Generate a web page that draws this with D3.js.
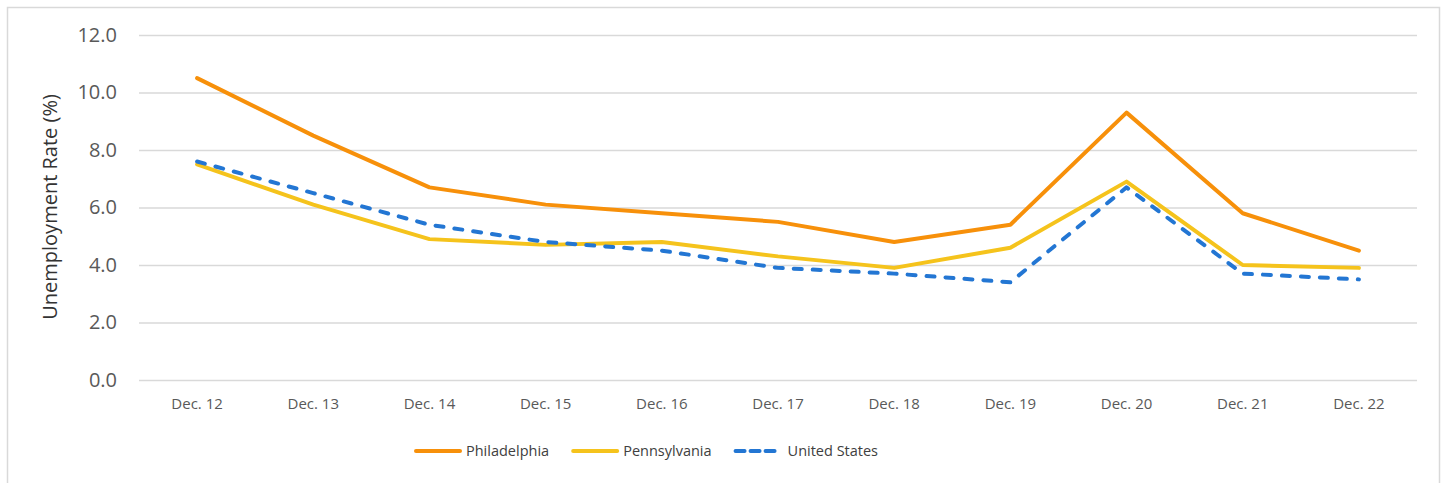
<!DOCTYPE html>
<html>
<head>
<meta charset="utf-8">
<script src="https://cdn.jsdelivr.net/npm/d3@7"></script>
<style>
  body { margin: 0; background: #fff; }
  svg { display: block; font-family: "Open Sans", sans-serif; }
</style>
</head>
<body>
<div id="chart"></div>
<script>
"use strict";

var WIDTH = 1447;
var HEIGHT = 483;
var FONT = "'Open Sans', sans-serif";

var categories = ["Dec. 12", "Dec. 13", "Dec. 14", "Dec. 15", "Dec. 16", "Dec. 17",
                  "Dec. 18", "Dec. 19", "Dec. 20", "Dec. 21", "Dec. 22"];
var philadelphia = [10.5, 8.5, 6.7, 6.1, 5.8, 5.5, 4.8, 5.4, 9.3, 5.8, 4.5];
var pennsylvania = [7.5, 6.1, 4.9, 4.7, 4.8, 4.3, 3.9, 4.6, 6.9, 4.0, 3.9];
var unitedStates = [7.6, 6.5, 5.4, 4.8, 4.5, 3.9, 3.7, 3.4, 6.7, 3.7, 3.5];
var yTicks = [0, 2, 4, 6, 8, 10, 12];

var series = [
    { name: "Philadelphia", values: philadelphia, color: "#f7900a", dash: null },
    { name: "Pennsylvania", values: pennsylvania, color: "#f5c31c", dash: null },
    { name: "United States", values: unitedStates, color: "#2376d3", dash: "8,11" }
];

var svg = d3.select("#chart").append("svg")
    .attr("width", WIDTH)
    .attr("height", HEIGHT);

svg.append("rect")
    .attr("width", WIDTH).attr("height", HEIGHT)
    .attr("fill", "#fff");

// outer frame
svg.append("rect")
    .attr("x", 7.5).attr("y", 7.5)
    .attr("width", 1432).attr("height", 500)
    .attr("fill", "none")
    .attr("stroke", "#d9d9d9")
    .attr("stroke-width", 1.5);

var scaleX = d3.scaleBand().domain(categories).range([139, 1417]);
var scaleY = d3.scaleLinear().domain([0, 12]).range([380, 35]);

// gridlines + y labels
var yAxis = d3.axisLeft(scaleY)
    .tickValues(yTicks)
    .tickSize(-(1417 - 139))
    .tickPadding(22)
    .tickFormat(d3.format(".1f"));

var gy = svg.append("g")
    .attr("transform", "translate(139,0)")
    .call(yAxis);
gy.attr("font-family", FONT);
gy.select(".domain").remove();
gy.selectAll(".tick line").attr("stroke", "#d9d9d9").attr("stroke-width", 1.3);
gy.selectAll(".tick text")
    .attr("fill", "#595959")
    .style("font-size", "20px");

// x labels
var xAxis = d3.axisBottom(scaleX).tickSize(0).tickPadding(18);
var gx = svg.append("g")
    .attr("transform", "translate(0,380)")
    .call(xAxis);
gx.attr("font-family", FONT);
gx.select(".domain").remove();
gx.selectAll(".tick text")
    .attr("fill", "#595959")
    .style("font-size", "15px");

// axis title
svg.append("text")
    .attr("transform", "translate(57,207) rotate(-90)")
    .attr("text-anchor", "middle")
    .attr("fill", "#333")
    .style("font-size", "20px")
    .text("Unemployment Rate (%)");

// lines
var line = d3.line()
    .x(function (d, i) { return scaleX(categories[i]) + scaleX.bandwidth() / 2; })
    .y(function (d) { return scaleY(d); });

svg.selectAll("path.series")
    .data(series)
    .enter().append("path")
    .attr("class", "series")
    .attr("d", function (d) { return line(d.values); })
    .attr("fill", "none")
    .attr("stroke", function (d) { return d.color; })
    .attr("stroke-width", 4)
    .attr("stroke-linecap", "round")
    .attr("stroke-linejoin", "round")
    .attr("stroke-dasharray", function (d) { return d.dash; });

// legend
var legend = svg.append("g").attr("transform", "translate(0,451)");
var lx = 416;
series.forEach(function (s) {
    var g = legend.append("g").attr("transform", "translate(" + lx + ",0)");
    g.append("line")
        .attr("x1", 0).attr("x2", s.dash ? 40 : 44)
        .attr("stroke", s.color)
        .attr("stroke-width", 4)
        .attr("stroke-linecap", "round")
        .attr("stroke-dasharray", s.dash ? "9,6" : null);
    var tx = s.dash ? 52 : 50;
    var t = g.append("text")
        .attr("x", tx)
        .attr("dy", "0.35em")
        .attr("fill", "#404040")
        .style("font-size", "14.5px")
        .text(s.name);
    lx += tx + t.node().getComputedTextLength() + 24;
});
</script>
</body>
</html>
